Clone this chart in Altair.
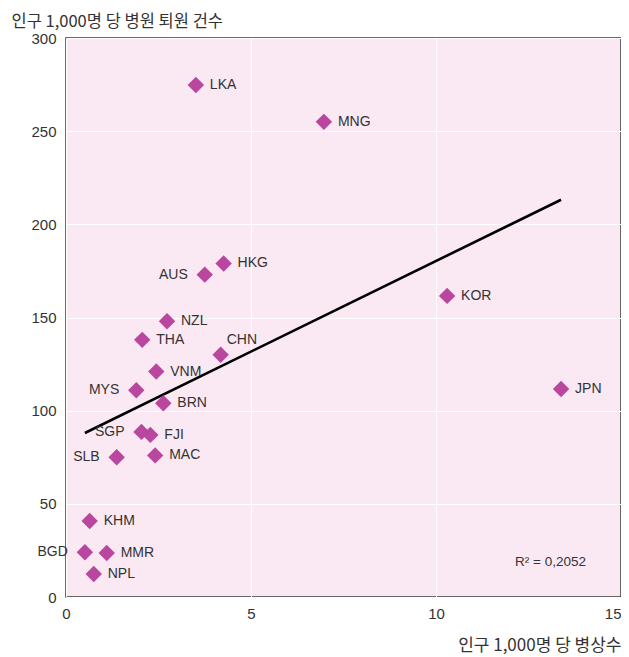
import altair as alt
import pandas as pd

countries = ["LKA", "MNG", "HKG", "AUS", "KOR", "NZL", "THA", "CHN", "VNM", "MYS",
             "JPN", "BRN", "SGP", "FJI", "SLB", "MAC", "KHM", "BGD", "MMR", "NPL"]
beds = [3.51, 6.97, 4.26, 3.75, 10.3, 2.73, 2.06, 4.18, 2.44, 1.90,
        13.38, 2.63, 2.04, 2.28, 1.37, 2.41, 0.64, 0.51, 1.10, 0.75]
discharges = [274.8, 255.0, 179.0, 173.0, 161.6, 148.0, 138.0, 130.0, 121.0, 111.0,
              111.6, 104.0, 88.6, 87.0, 75.0, 76.0, 40.8, 24.0, 23.6, 12.3]
label_side = ["right", "right", "right", "left", "right", "right", "right", "above", "right", "left",
              "right", "right", "left", "right", "left", "right", "right", "left", "right", "right"]
r2_text = "R² = 0,2052"
x_ticks = [0, 5, 10, 15]
y_ticks = [0, 50, 100, 150, 200, 250, 300]

df = pd.DataFrame({"country": countries, "beds": beds, "discharges": discharges, "side": label_side})

W, H = 555, 559
num_font = "Liberation Sans"
kr_font = "Noto Sans CJK KR"

xs = alt.Scale(domain=[0, 15], nice=False, zero=False)
ys = alt.Scale(domain=[0, 300], nice=False)

x_enc = alt.X("beds:Q", scale=xs, axis=alt.Axis(
    values=x_ticks, title="인구 1,000명 당 병상수", grid=True, gridColor="white", gridWidth=1,
    ticks=False, domain=False, labelFont=num_font, labelFontSize=15, labelColor="#333333",
    labelPadding=9, labelAlign=alt.expr("datum.value == 15 ? 'right' : 'center'"),
    titleFont=kr_font, titleFontSize=17, titleFontWeight="normal", titleColor="#333333",
    titleAlign="right", titleBaseline="middle", titleX=W, titleY=48, titleAngle=0))
y_enc = alt.Y("discharges:Q", scale=ys, axis=alt.Axis(
    values=y_ticks, title="인구 1,000명 당 병원 퇴원 건수", grid=True, gridColor="white", gridWidth=1,
    ticks=False, domain=False, labelFont=num_font, labelFontSize=15, labelColor="#333333",
    labelPadding=10,
    titleFont=kr_font, titleFontSize=16.5, titleFontWeight="normal", titleColor="#333333",
    titleAlign="left", titleBaseline="middle", titleX=-55, titleY=-16.5, titleAngle=0))

base = alt.Chart(df)

points = base.mark_point(shape="diamond", filled=True, size=270, color="#B9479F", opacity=1).encode(
    x=x_enc, y=y_enc)

trend = base.transform_regression("beds", "discharges").mark_line(
    color="black", strokeWidth=2.6).encode(x="beds:Q", y="discharges:Q")

lbl_style = dict(font=num_font, fontSize=14, color="#333333", baseline="middle")
right_lbl = base.transform_filter(alt.datum.side == "right").mark_text(
    align="left", dx=14, **lbl_style).encode(x="beds:Q", y="discharges:Q", text="country:N")
left_lbl = base.transform_filter(alt.datum.side == "left").mark_text(
    align="right", dx=-17, **lbl_style).encode(x="beds:Q", y="discharges:Q", text="country:N")
above_lbl = base.transform_filter(alt.datum.side == "above").mark_text(
    align="left", dx=6, dy=-15, **lbl_style).encode(x="beds:Q", y="discharges:Q", text="country:N")

r2 = alt.Chart(pd.DataFrame({"t": [r2_text]})).mark_text(
    align="right", baseline="middle", font=num_font, fontSize=13.5, color="#333333").encode(
    x=alt.value(W - 35), y=alt.value(H - 35), text="t:N")

chart = alt.layer(trend, points, right_lbl, left_lbl, above_lbl, r2).properties(
    width=W, height=H,
    background="white",
    autosize=alt.AutoSizeParams(type="none"),
    padding={"left": 58, "top": 30, "right": 0, "bottom": 60},
).configure_view(
    fill="#FAE9F3", stroke="#3a3a3a", strokeWidth=1.5
)

chart.save("out.html", embed_options={"renderer": "svg", "actions": False})
